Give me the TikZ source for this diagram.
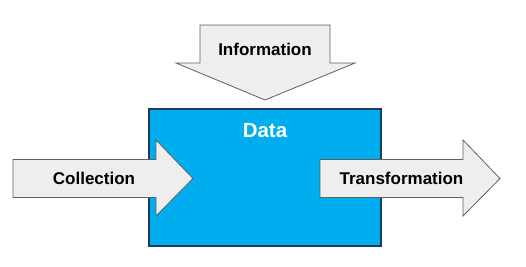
\documentclass[tikz,border=0pt]{standalone}
\usepackage{fontspec}
\setmainfont{Liberation Sans}
\usetikzlibrary{positioning}
\definecolor{datablue}{HTML}{00ADEE}
\definecolor{arrowfill}{HTML}{EEEEEE}
\definecolor{arrowedge}{HTML}{5F5F5F}
\definecolor{boxedge}{HTML}{1F3B57}

\begin{document}
\begin{tikzpicture}[x=1pt,y=-1pt,every node/.style={font=\bfseries\fontsize{17}{20}\selectfont},
  bigarrow/.style={draw=arrowedge,fill=arrowfill,line width=0.8pt,line join=miter}]
  \useasboundingbox (0,0) rectangle (526,266);
  \node[draw=boxedge,fill=datablue,line width=1.2pt,minimum width=232pt,minimum height=137pt,inner sep=0pt] (data) at (265,177.5) {};
  % Information arrow
  \draw[bigarrow] (200,25) -- (330,25) -- (330,63) -- (355,63) -- (265,100) -- (176,63) -- (200,63) -- cycle;
  \node[anchor=base] (info) at (265,55.5) {Information};
  % Collection arrow
  \draw[bigarrow] (13,159.5) -- (156,159.5) -- (156,140) -- (193,178.5) -- (156,216) -- (156,197.5) -- (13,197.5) -- cycle;
  \node[anchor=base] (collect) at (94,184.5) {Collection};
  % Transformation arrow
  \draw[bigarrow] (320,159.5) -- (463,159.5) -- (463,140) -- (500,178.5) -- (463,216) -- (463,197.5) -- (320,197.5) -- cycle;
  \node[anchor=base] (transform) at (401.5,184.5) {Transformation};
  \node[below=11.5pt of data.north,text=white,font=\bfseries\fontsize{20.5}{24}\selectfont] (datatitle) {Data};
\end{tikzpicture}
\end{document}
